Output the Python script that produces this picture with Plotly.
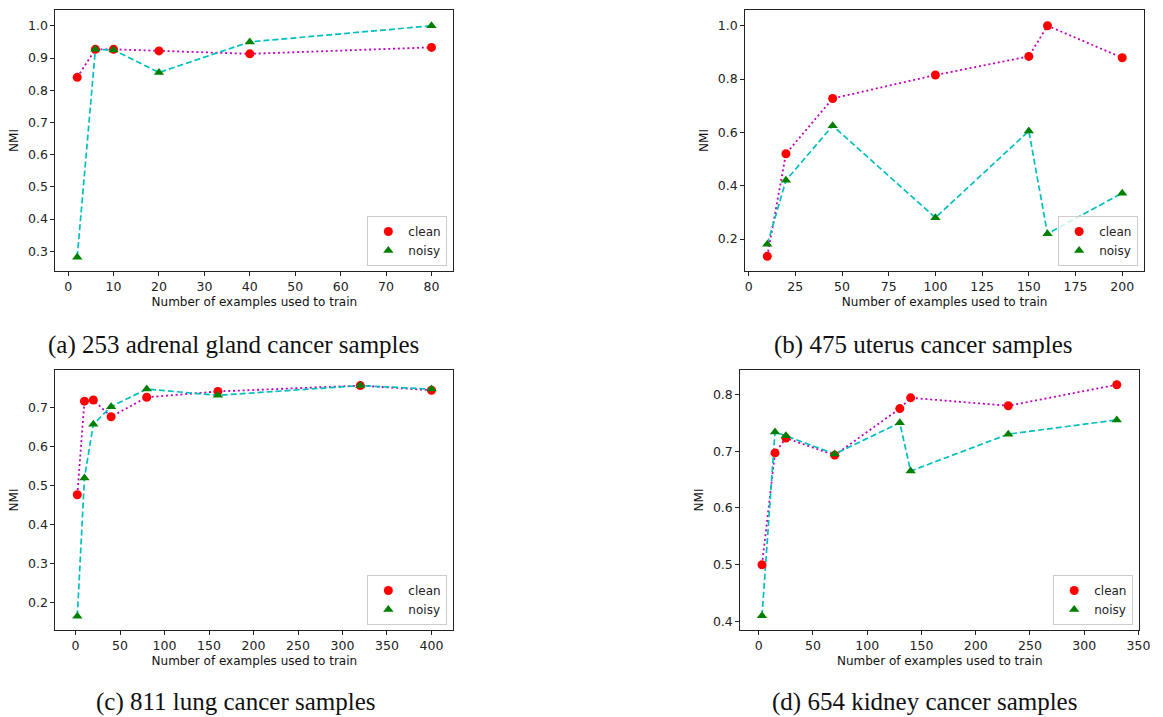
import plotly.graph_objects as go

# ---- data ----
a_x = [2, 6, 10, 20, 40, 80]
a_clean = [0.840, 0.927, 0.927, 0.922, 0.913, 0.933]
a_noisy = [0.282, 0.927, 0.925, 0.855, 0.950, 1.000]

b_x = [10, 20, 45, 100, 150, 160, 200]
b_clean = [0.135, 0.520, 0.727, 0.815, 0.885, 1.000, 0.880]
b_noisy = [0.180, 0.420, 0.625, 0.280, 0.605, 0.220, 0.372]

c_x = [2, 10, 20, 40, 80, 160, 320, 400]
c_clean = [0.477, 0.717, 0.720, 0.677, 0.727, 0.742, 0.757, 0.745]
c_noisy = [0.165, 0.520, 0.658, 0.703, 0.748, 0.732, 0.757, 0.748]

d_x = [3, 15, 25, 70, 130, 140, 230, 330]
d_clean = [0.500, 0.697, 0.723, 0.693, 0.775, 0.794, 0.780, 0.817]
d_noisy = [0.410, 0.734, 0.727, 0.695, 0.750, 0.665, 0.730, 0.755]

a_xticks = [0, 10, 20, 30, 40, 50, 60, 70, 80]
a_yticks = [0.3, 0.4, 0.5, 0.6, 0.7, 0.8, 0.9, 1.0]
b_xticks = [0, 25, 50, 75, 100, 125, 150, 175, 200]
b_yticks = [0.2, 0.4, 0.6, 0.8, 1.0]
c_xticks = [0, 50, 100, 150, 200, 250, 300, 350, 400]
c_yticks = [0.2, 0.3, 0.4, 0.5, 0.6, 0.7]
d_xticks = [0, 50, 100, 150, 200, 250, 300, 350]
d_yticks = [0.4, 0.5, 0.6, 0.7, 0.8]

captions = ["(a) 253 adrenal gland cancer samples",
            "(b) 475 uterus cancer samples",
            "(c) 811 lung cancer samples",
            "(d) 654 kidney cancer samples"]
series_names = ["clean", "noisy"]
x_title = "Number of examples used to train"
y_title = "NMI"

# ---- layout config ----
W, H = 1163, 717


def px(x):
    return x / W


def py(y):
    return 1 - y / H


panels = [
    dict(x=a_x, c=a_clean, n=a_noisy, xt=a_xticks, yt=a_yticks,
         xr=[-2.8, 84.8], yr=[0.239, 1.049], box=(55, 457, 10, 271),
         leg=(451, 266), cap=(235, 345)),
    dict(x=b_x, c=b_clean, n=b_noisy, xt=b_xticks, yt=b_yticks,
         xr=[-1.8, 211.7], yr=[0.08, 1.059], box=(752, 1155, 10, 271),
         leg=(1149, 266), cap=(932, 345)),
    dict(x=c_x, c=c_clean, n=c_noisy, xt=c_xticks, yt=c_yticks,
         xr=[-22.6, 424.5], yr=[0.13, 0.797], box=(55, 457, 370, 630),
         leg=(451, 625), cap=(237, 702)),
    dict(x=d_x, c=d_clean, n=d_noisy, xt=d_xticks, yt=d_yticks,
         xr=[-17, 350.6], yr=[0.385, 0.843], box=(747, 1150, 370, 630),
         leg=(1144, 625), cap=(933, 702)),
]

fig = go.Figure()
layout = dict(width=W, height=H, margin=dict(l=0, r=0, t=0, b=0),
              paper_bgcolor="white", plot_bgcolor="white",
              font=dict(family="DejaVu Sans", color="#111"))
annotations = []

for i, p in enumerate(panels, start=1):
    sfx = "" if i == 1 else str(i)
    xa, ya = "x" + sfx, "y" + sfx
    lg = "legend" + sfx
    # lines
    fig.add_trace(go.Scatter(x=p["x"], y=p["c"], mode="lines", xaxis=xa, yaxis=ya,
                             line=dict(color="#BF00BF", dash="2px,2.8px", width=1.8),
                             showlegend=False, hoverinfo="skip"))
    fig.add_trace(go.Scatter(x=p["x"], y=p["n"], mode="lines", xaxis=xa, yaxis=ya,
                             line=dict(color="#00BFBF", dash="6px,3px", width=1.7),
                             showlegend=False, hoverinfo="skip"))
    # markers
    fig.add_trace(go.Scatter(x=p["x"], y=p["c"], mode="markers", xaxis=xa, yaxis=ya,
                             name=series_names[0], legend=lg,
                             marker=dict(color="red", symbol="circle", size=9)))
    fig.add_trace(go.Scatter(x=p["x"], y=p["n"], mode="markers", xaxis=xa, yaxis=ya,
                             name=series_names[1], legend=lg,
                             marker=dict(color="green", symbol="triangle-up", size=9)))
    x0, x1, y0, y1 = p["box"]
    axcommon = dict(showline=True, mirror=True, linecolor="#222", linewidth=1,
                    ticks="outside", ticklen=4, tickcolor="#222", showgrid=False,
                    zeroline=False, tickfont=dict(size=12.5, color="#222"))
    layout["xaxis" + sfx] = dict(domain=[px(x0), px(x1)], anchor=ya, range=p["xr"],
                                 tickvals=p["xt"],
                                 title=dict(text=x_title, font=dict(size=12), standoff=4),
                                 **axcommon)
    layout["yaxis" + sfx] = dict(domain=[py(y1), py(y0)], anchor=xa, range=p["yr"],
                                 tickvals=p["yt"], tickformat=".1f",
                                 title=dict(text=y_title, font=dict(size=12), standoff=6),
                                 **axcommon)
    lx, ly = p["leg"]
    layout[lg] = dict(x=px(lx), y=py(ly), xanchor="right", yanchor="bottom",
                      bgcolor="rgba(255,255,255,0.8)", bordercolor="#cccccc", borderwidth=1,
                      font=dict(size=12, color="#222"), itemwidth=30,
                      tracegroupgap=0)
    cx, cy = p["cap"]
    annotations.append(dict(text=captions[i - 1], x=px(cx), y=py(cy), xref="paper", yref="paper",
                            showarrow=False, xanchor="center", yanchor="middle",
                            font=dict(family="Liberation Serif", size=25, color="#111")))

layout["annotations"] = annotations
fig.update_layout(**layout)
fig.write_html("out.html", config={"displayModeBar": False},
               post_script="document.body.style.margin='0px';document.body.style.padding='0px';"
                           "document.documentElement.style.overflow='hidden';")
